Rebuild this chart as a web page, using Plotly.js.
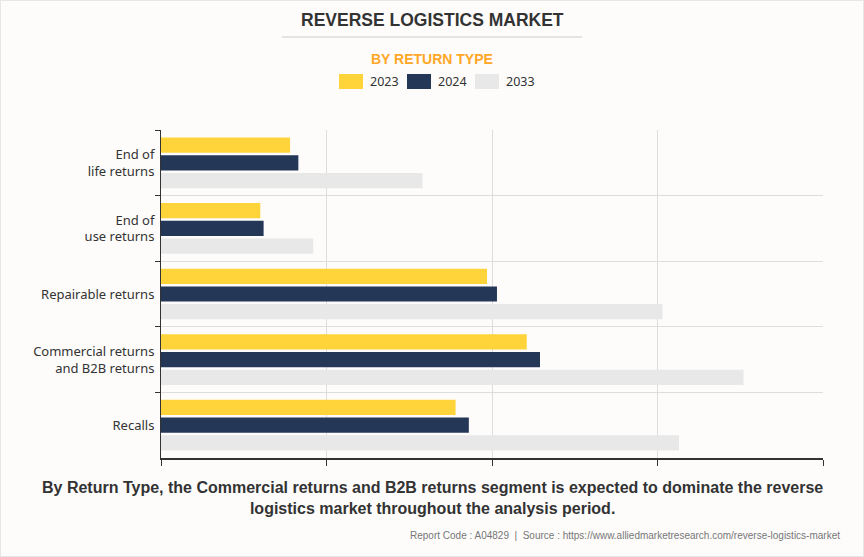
<!DOCTYPE html>
<html><head><meta charset="utf-8">
<script src="https://cdn.plot.ly/plotly-3.0.1.min.js"></script>
<style>
html,body{margin:0;padding:0;background:#fdfcfb;}
#wrap{position:relative;width:864px;height:557px;}
#chart{width:864px;height:557px;}
#border{position:absolute;left:0;top:0;width:862px;height:555px;border:1px solid #e6e6e6;pointer-events:none;}
</style></head>
<body><div id="wrap"><div id="chart"></div><div id="border"></div></div>
<script>
const categories = ["End of<br>life returns", "End of<br>use returns", "Repairable returns", "Commercial returns<br>and B2B returns", "Recalls"];
const seriesNames = ["2023", "2024", "2033"];
const values2023 = [0.78, 0.60, 1.97, 2.21, 1.78];
const values2024 = [0.83, 0.62, 2.03, 2.29, 1.86];
const values2033 = [1.58, 0.92, 3.03, 3.52, 3.13];
const colors = ["#FFD43B", "#243757", "#E8E8E8"];

const W = 864, H = 557, L = 161, R = 823, T = 130, B = 458;
const px = x => (x - L) / (R - L);
const py = y => (B - y) / (B - T);

const allVals = [values2023, values2024, values2033];
const traces = allVals.map((v, i) => ({
  type: 'bar', orientation: 'h', name: seriesNames[i],
  x: v, y: categories, marker: {color: colors[i]}, hoverinfo: 'x'
}));

const ann = (o) => Object.assign({xref:'paper', yref:'paper', showarrow:false, yanchor:'middle'}, o);
const shapes = [
  {type:'line', xref:'paper', yref:'paper', x0:px(282), x1:px(582), y0:py(37), y1:py(37), line:{color:'#cccccc', width:1}}
];
const annotations = [
  ann({text:'<b>REVERSE LOGISTICS MARKET</b>', x:px(432), y:py(20), font:{family:'Liberation Sans, Arial', size:17.5, color:'#333333'}}),
  ann({text:'<b>BY RETURN TYPE</b>', x:px(432), y:py(59), font:{family:'Liberation Sans, Arial', size:14, color:'#FFA726'}}),
  ann({text:'<b>By Return Type, the Commercial returns and B2B returns segment is expected to dominate the reverse<br>logistics market throughout the analysis period.</b>', x:px(432), y:py(498), font:{family:'Liberation Sans, Arial', size:16, color:'#333333'}}),
  ann({text:'Report Code : A04829  |  Source : https://www.alliedmarketresearch.com/reverse-logistics-market', x:px(842), y:py(535), xanchor:'right', font:{family:'Liberation Sans, Arial', size:10, color:'#777777'}})
];
const legX = [339, 407, 475];
seriesNames.forEach((n, i) => {
  shapes.push({type:'rect', xref:'paper', yref:'paper', x0:px(legX[i]), x1:px(legX[i]+24), y0:py(89), y1:py(74), fillcolor:colors[i], line:{width:0}});
  annotations.push(ann({text:n, x:px(legX[i]+29), y:py(81.5), xanchor:'left', font:{family:'Noto Sans, Open Sans', size:12.5, color:'#333333'}}));
});

const layout = {
  width: W, height: H,
  margin: {l: L, r: W - R, t: T, b: H - B, pad: 0},
  paper_bgcolor: '#fdfcfb', plot_bgcolor: '#fdfcfb',
  showlegend: false,
  barmode: 'group', bargap: 0.19, bargroupgap: 0.14,
  xaxis: {range: [0, 4], dtick: 1, showticklabels: false, ticks: 'outside', ticklen: 6, tickcolor: '#333333',
          showline: true, linecolor: '#333333', linewidth: 1.5, showgrid: true, gridcolor: '#dddddd', zeroline: false, fixedrange: true},
  yaxis: {autorange: 'reversed', type: 'category', tickson: 'boundaries', ticks: 'outside', ticklen: 5, tickcolor: '#333333',
          showline: true, linecolor: '#333333', linewidth: 1, showgrid: true, gridcolor: '#dddddd', ticklabelstandoff: 3,
          tickfont: {family: 'Noto Sans, Open Sans', size: 13, color: '#333333'}, fixedrange: true},
  shapes: shapes, annotations: annotations
};
Plotly.newPlot('chart', traces, layout, {displayModeBar: false, staticPlot: true});
</script></body></html>
